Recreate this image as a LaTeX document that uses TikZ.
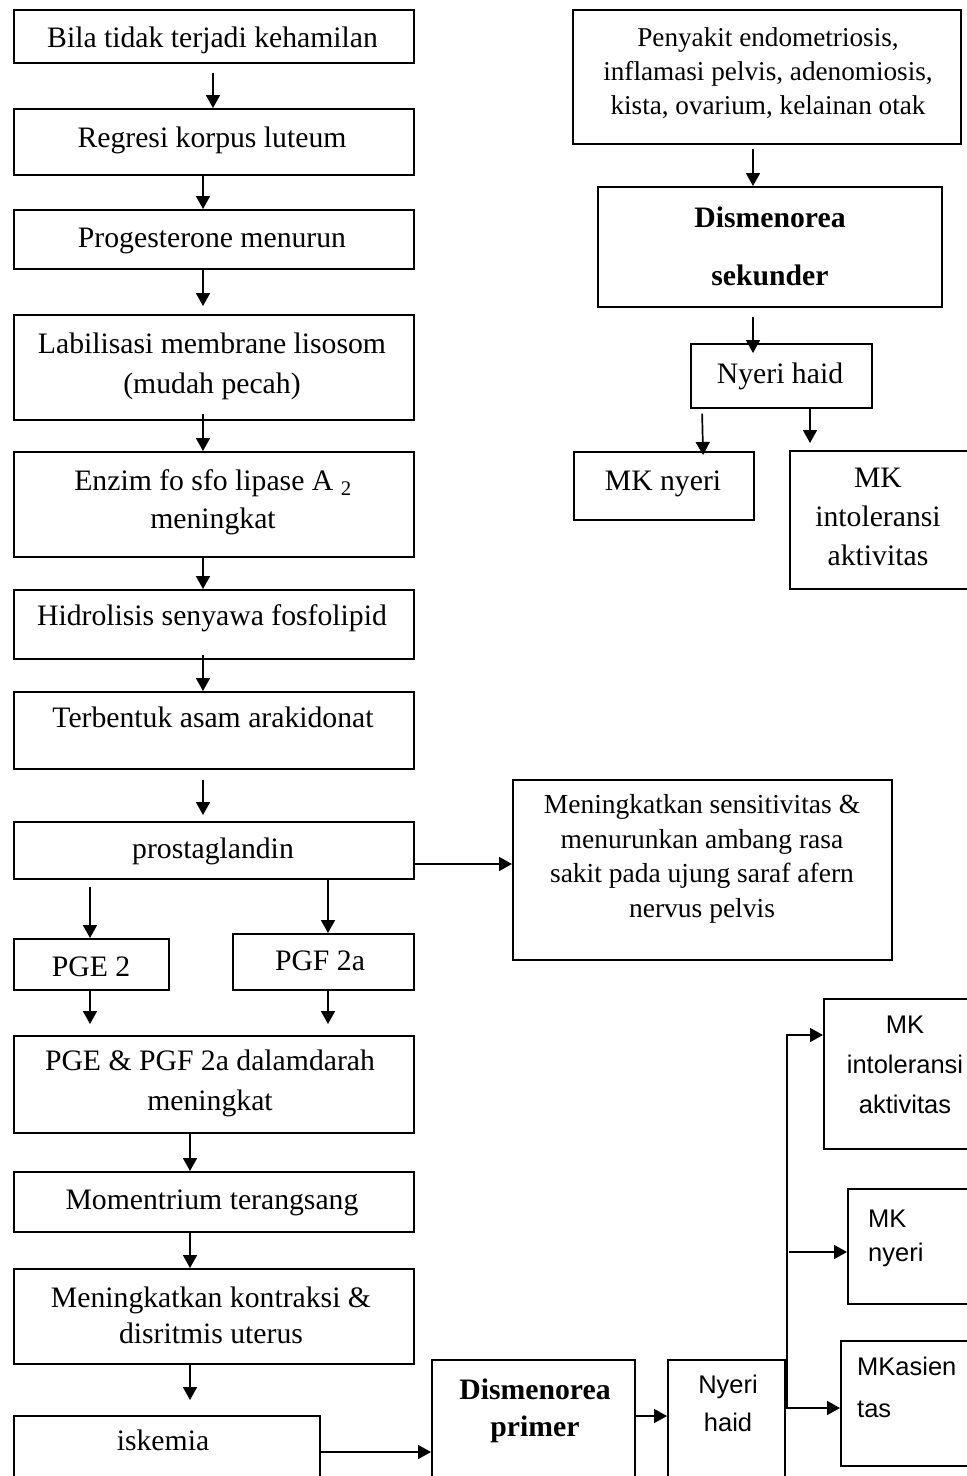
\documentclass[tikz,border=0pt]{standalone}
\usepackage{fontspec}
\setmainfont{Liberation Serif}
\newfontfamily\sansbox{Liberation Sans}
\usetikzlibrary{arrows.meta,calc,positioning}

\begin{document}
\begin{tikzpicture}[x=1pt,y=-1pt,
  box/.style={draw,line width=1.7pt,inner sep=0pt,anchor=north west},
  txt/.style={inner sep=0pt,align=center,anchor=base,font=\fontsize{29.7}{36}\selectfont},
  stxt/.style={txt,font=\sansbox\fontsize{25.5}{38}\selectfont},
  arr/.style={line width=1.7pt,-{Triangle[length=13pt,width=14pt]}}]
\useasboundingbox (0,0) rectangle (967,1476);
% left column
\node[box,minimum width=400pt,minimum height=53pt] (b1) at (13,9) {};
\node[box,minimum width=400pt,minimum height=66pt] (b2) at (13,108) {};
\node[box,minimum width=400pt,minimum height=59pt] (b3) at (13,209) {};
\node[box,minimum width=400pt,minimum height=105pt] (b4) at (13,314) {};
\node[box,minimum width=400pt,minimum height=105pt] (b5) at (13,451) {};
\node[box,minimum width=400pt,minimum height=69pt] (b6) at (13,589) {};
\node[box,minimum width=400pt,minimum height=77pt] (b7) at (13,691) {};
\node[box,minimum width=400pt,minimum height=57pt] (b8) at (13,821) {};
\node[box,minimum width=379pt,minimum height=180pt] (b9) at (512,779) {};
\node[box,minimum width=155pt,minimum height=51pt] (b10) at (13,938) {};
\node[box,minimum width=181pt,minimum height=56pt] (b11) at (232,933) {};
\node[box,minimum width=400pt,minimum height=97pt] (b12) at (13,1035) {};
\node[box,minimum width=400pt,minimum height=60pt] (b13) at (13,1171) {};
\node[box,minimum width=400pt,minimum height=95pt] (b14) at (13,1268) {};
\node[box,minimum width=306pt,minimum height=100pt] (b15) at (13,1415) {};
\node[box,minimum width=203pt,minimum height=130pt] (b16) at (431,1359) {};
\node[box,minimum width=117pt,minimum height=130pt] (b17) at (667,1359) {};
\node[box,minimum width=180pt,minimum height=150pt] (b18) at (823,998) {};
\node[box,minimum width=150pt,minimum height=115pt] (b19) at (847,1188) {};
\node[box,minimum width=150pt,minimum height=125pt] (b20) at (840,1340) {};
% right column
\node[box,minimum width=388pt,minimum height=134pt] (b21) at (572,9) {};
\node[box,minimum width=344pt,minimum height=120pt] (b22) at (597,186) {};
\node[box,minimum width=181pt,minimum height=64pt] (b23) at (690,343) {};
\node[box,minimum width=180pt,minimum height=68pt] (b24) at (573,451) {};
\node[box,minimum width=200pt,minimum height=138pt] (b25) at (789,450) {};

% texts (base = last line)
\begin{scope}
\clip (b1.north west) rectangle (376,62);
\node[txt,anchor=base west] (t1) at (47,47) {Bila tidak terjadi kehamilan};
\end{scope}
\node[txt] (t2) at (212,147) {Regresi korpus luteum};
\node[txt] (t3) at (212,247) {Progesterone menurun};
\node[txt,font=\fontsize{29.7}{40}\selectfont] (t4) at (212,393) {Labilisasi membrane lisosom\\(mudah pecah)};
\node[txt,font=\fontsize{29.7}{38}\selectfont] (t5) at (213,528) {Enzim fo sfo lipase A \textsubscript{2}\\meningkat};
\node[txt] (t6) at (212,625) {Hidrolisis senyawa fosfolipid};
\node[txt] (t7) at (213,727) {Terbentuk asam arakidonat};
\node[txt] (t8) at (213,858) {prostaglandin};
\node[txt,font=\fontsize{27.5}{34.5}\selectfont] (t9) at (702,917) {Meningkatkan sensitivitas \&\\menurunkan ambang rasa\\sakit pada ujung saraf afern\\nervus pelvis};
\node[txt] (t10) at (91,976) {PGE 2};
\node[txt] (t11) at (320,970) {PGF 2a};
\node[txt,font=\fontsize{29.7}{40}\selectfont] (t12) at (210,1110) {PGE \& PGF 2a dalamdarah\\meningkat};
\node[txt] (t13) at (212,1209) {Momentrium terangsang};
\node[txt] (t14) at (211,1343) {Meningkatkan kontraksi \&\\disritmis uterus};
\node[txt] (t15) at (163,1450) {iskemia};
\node[txt,font=\bfseries\fontsize{29.7}{37}\selectfont] (t16) at (535,1436) {Dismenorea\\primer};
\node[stxt] (t17) at (728,1431) {Nyeri\\haid};
\node[stxt,font=\sansbox\fontsize{25.5}{40}\selectfont] (t18) at (905,1113) {MK\\intoleransi\\aktivitas};
\node[stxt,align=left,anchor=base west,font=\sansbox\fontsize{25.5}{34}\selectfont] (t19) at (868,1261) {MK\\nyeri};
\node[stxt,align=left,anchor=base west,font=\sansbox\fontsize{25.5}{42}\selectfont] (t20) at (857,1417) {MKasien\\tas};
\node[txt,font=\fontsize{27.2}{34}\selectfont] (t21) at (768,114) {Penyakit endometriosis,\\inflamasi pelvis, adenomiosis,\\kista, ovarium, kelainan otak};
\node[txt,font=\bfseries\fontsize{29.7}{58}\selectfont] (t22) at (770,285) {Dismenorea\\sekunder};
\node[txt] (t23) at (780,383) {Nyeri haid};
\node[txt] (t24) at (663,490) {MK nyeri};
\node[txt,font=\fontsize{29.7}{39}\selectfont] (t25) at (878,565) {MK\\intoleransi\\aktivitas};

% connectors, left column
\draw[arr,shorten <=9pt] (b1.south -| 213,0) -- (b2.north -| 213,0);
\draw[arr] (b2.south -| 203,0) -- (b3.north -| 203,0);
\draw[arr,shorten >=8pt] (b3.south -| 203,0) -- (b4.north -| 203,0);
\draw[arr,shorten <=-7pt] (b4.south -| 203,0) -- (b5.north -| 203,0);
\draw[arr] (b5.south -| 203,0) -- (b6.north -| 203,0);
\draw[arr,shorten <=-5pt] (b6.south -| 203,0) -- (b7.north -| 203,0);
\draw[arr,shorten <=10pt,shorten >=6pt] (b7.south -| 203,0) -- (b8.north -| 203,0);
\draw[arr] (b8.east |- 0,864) -- (b9.west |- 0,864);
\draw[arr,shorten <=7pt] (b8.south -| 90,0) -- (b10.north -| 90,0);
\draw[arr] (b8.south -| 328,0) -- (b11.north -| 328,0);
\draw[arr,shorten >=11pt] (b10.south -| 90,0) -- (b12.north -| 90,0);
\draw[arr,shorten >=11pt] (b11.south -| 328,0) -- (b12.north -| 328,0);
\draw[arr] (b12.south -| 190,0) -- (b13.north -| 190,0);
\draw[arr] (b13.south -| 190,0) -- (b14.north -| 190,0);
\draw[arr,shorten >=15pt] (b14.south -| 190,0) -- (b15.north -| 190,0);
\draw[arr] (b15.east |- 0,1452) -- (b16.west |- 0,1452);
\draw[arr] (b16.east |- 0,1416) -- (b17.west |- 0,1416);
% fork to the three MK boxes
\coordinate (fork) at (787,1408);
\coordinate (mid) at (789,1252);
\draw[arr] (b17.east |- fork) -- (b20.west |- fork);
\draw[arr,line width=1.4pt] (fork) |- (b18.west |- 0,1035);
\draw[arr,line width=1.4pt] (mid) -- (b19.west |- mid);
% connectors, right column
\draw[arr,shorten <=4pt] (b21.south -| 753,0) -- (b22.north -| 753,0);
\draw[arr,shorten <=9pt,shorten >=-10pt] (b22.south -| 753,0) -- (b23.north -| 753,0);
\draw[arr,shorten <=5pt,shorten >=-4pt] (b23.south -| 702,0) -- (b24.north -| 703,0);
\draw[arr,shorten >=7pt] (b23.south -| 810,0) -- (b25.north -| 810,0);
\end{tikzpicture}
\end{document}
